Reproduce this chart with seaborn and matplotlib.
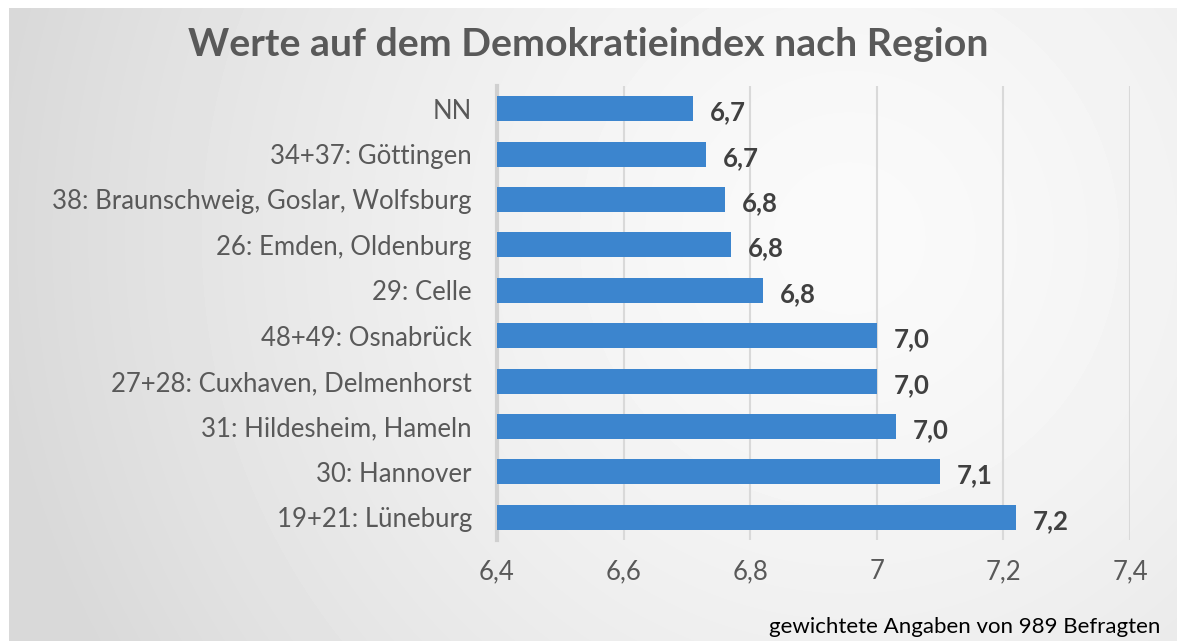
import matplotlib.pyplot as plt
import numpy as np
import pandas as pd
import seaborn as sns

regions = ["NN", "34+37: Göttingen", "38: Braunschweig, Goslar, Wolfsburg",
           "26: Emden, Oldenburg", "29: Celle", "48+49: Osnabrück",
           "27+28: Cuxhaven, Delmenhorst", "31: Hildesheim, Hameln",
           "30: Hannover", "19+21: Lüneburg"]
values = [6.71, 6.73, 6.76, 6.77, 6.82, 7.00, 7.00, 7.03, 7.10, 7.22]
tick_vals = [6.4, 6.6, 6.8, 7.0, 7.2, 7.4]
tick_labels = ["6,4", "6,6", "6,8", "7", "7,2", "7,4"]

df = pd.DataFrame({"region": regions, "wert": values})

sns.set_style("white")
plt.rcParams['font.family'] = ['Lato', 'DejaVu Sans']

fig = plt.figure(figsize=(11.77, 6.41), dpi=100)
fig.patch.set_facecolor("white")

# radial gradient panel behind the chart
bg = fig.add_axes([9/1177, 0, 1 - 9/1177, 1 - 8/641], zorder=0)
yy, xx = np.mgrid[0:633, 0:1168]
r = np.sqrt((xx - 840) ** 2 + ((yy - 230) * 1.0) ** 2)
shade = np.clip(0.98 - (r / 900) ** 1.5 * 0.14, 0.85, 0.98)
bg.imshow(shade, cmap="gray", vmin=0, vmax=1, aspect="auto")
bg.axis("off")

ax = fig.add_axes([497/1177, 1 - 540/641, (1130 - 497)/1177, (540 - 86)/641], zorder=1)
ax.patch.set_alpha(0)

sns.barplot(data=df, y="region", x="wert", orient="h", color="#3C85CE",
            saturation=1, width=0.55, linewidth=0, ax=ax, zorder=3)

ax.set_xlim(6.4, 7.4)
ax.set_xticks(tick_vals)
ax.set_xticklabels(tick_labels)
ax.grid(axis="x", color="#D9D9D9", linewidth=1.5, zorder=0)
ax.set_axisbelow(True)
for s in ["top", "right", "bottom"]:
    ax.spines[s].set_visible(False)
ax.spines["left"].set_color("#D0D0D0")
ax.spines["left"].set_linewidth(3)
ax.set_xlabel("")
ax.set_ylabel("")
ax.tick_params(axis="both", length=0, labelsize=18.5, colors="#595959")
ax.tick_params(axis="x", pad=14)
ax.tick_params(axis="y", pad=18)

for i, v in enumerate(values):
    ax.text(v + 0.027, i + 0.08, f"{v:.1f}".replace(".", ","), va="center", ha="left",
            fontsize=18.5, fontweight="bold", color="#404040")

fig.text(588/1177, 1 - 45/641, "Werte auf dem Demokratieindex nach Region",
         ha="center", va="center", fontsize=28.3, fontweight="bold", color="#595959")
fig.text(1160/1177, 1 - 627/641, "gewichtete Angaben von 989 Befragten",
         ha="right", va="center", fontsize=16, color="black")

fig.savefig("out.png", dpi=100)
